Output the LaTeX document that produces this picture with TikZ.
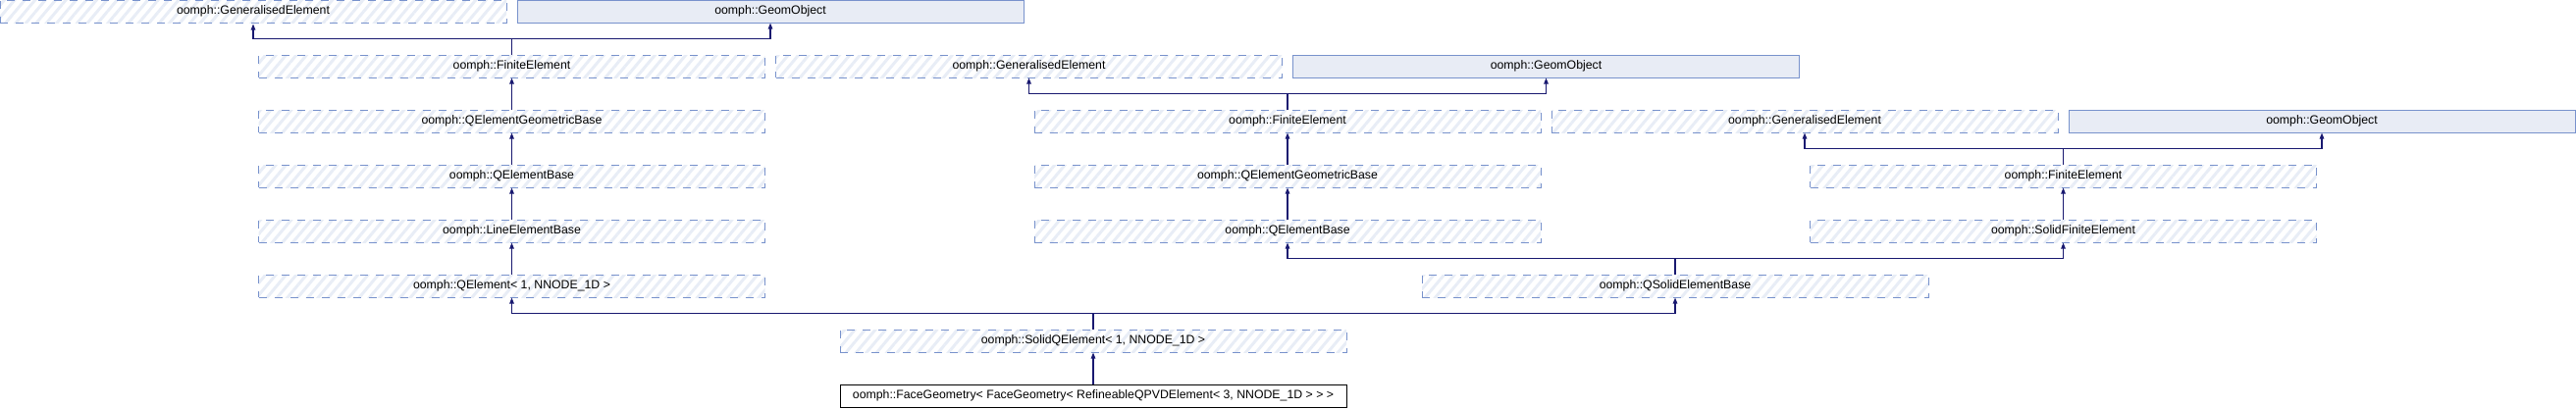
\documentclass[tikz,border=0pt]{standalone}
\usepackage{fontspec}
\setmainfont{Liberation Sans}
\usepackage{tikz}
\usetikzlibrary{arrows.meta, patterns.meta}
\definecolor{dashblue}{RGB}{120,146,204}
\definecolor{hatchblue}{RGB}{232,237,246}
\definecolor{geomfill}{RGB}{232,236,245}
\definecolor{linkblue}{RGB}{25,25,112}
\newcommand{\diagfont}{\fontsize{12.3pt}{14pt}\selectfont}
\tikzstyle{hatched} = [rectangle, minimum width=516pt, minimum height=23pt, inner sep=0pt, text centered, draw=dashblue, line width=1pt, dash pattern=on 8pt off 8pt, pattern={Lines[angle=50,distance=8pt,line width=3pt]}, pattern color=hatchblue, font=\diagfont]
\tikzstyle{geombox} = [rectangle, minimum width=516pt, minimum height=23pt, inner sep=0pt, text centered, draw=dashblue, line width=1pt, fill=geomfill, font=\diagfont]
\tikzstyle{mainbox} = [rectangle, minimum width=516pt, minimum height=23pt, inner sep=0pt, text centered, draw=black, line width=1pt, fill=white, font=\diagfont]
\tikzstyle{inherit} = [draw=linkblue, line width=1.1pt, -{Triangle[length=6pt,width=4.5pt]}]

\begin{document}
\begin{tikzpicture}[node distance=56pt]
  \useasboundingbox (0pt,0pt) rectangle (2625pt,-416pt);
  \node (genel1) [hatched] at (258pt,-11.5pt) {oomph::GeneralisedElement};
  \node (geom1) [geombox, right of=genel1, xshift=471pt] {oomph::GeomObject};
  \node (fe1) [hatched, below of=genel1, xshift=263.5pt] {oomph::FiniteElement};
  \node (qegb1) [hatched, below of=fe1] {oomph::QElementGeometricBase};
  \node (qeb1) [hatched, below of=qegb1] {oomph::QElementBase};
  \node (leb) [hatched, below of=qeb1] {oomph::LineElementBase};
  \node (qel) [hatched, below of=leb] {oomph::QElement< 1, NNODE\_1D >};
  \node (genel2) [hatched, below of=geom1, xshift=263.5pt] {oomph::GeneralisedElement};
  \node (geom2) [geombox, right of=genel2, xshift=471pt] {oomph::GeomObject};
  \node (fe2) [hatched, below of=genel2, xshift=263.5pt] {oomph::FiniteElement};
  \node (qegb2) [hatched, below of=fe2] {oomph::QElementGeometricBase};
  \node (qeb2) [hatched, below of=qegb2] {oomph::QElementBase};
  \node (genel3) [hatched, right of=fe2, xshift=471pt] {oomph::GeneralisedElement};
  \node (geom3) [geombox, right of=genel3, xshift=471pt] {oomph::GeomObject};
  \node (fe3) [hatched, below of=genel3, xshift=263.5pt] {oomph::FiniteElement};
  \node (sfe) [hatched, below of=fe3] {oomph::SolidFiniteElement};
  \node (qseb) [hatched, below of=qeb2, xshift=395pt] {oomph::QSolidElementBase};
  \node (sqel) [hatched, below of=qel, xshift=592.5pt] {oomph::SolidQElement< 1, NNODE\_1D >};
  \node (face) [mainbox, below of=sqel] {oomph::FaceGeometry< FaceGeometry< RefineableQPVDElement< 3, NNODE\_1D > > >};

  \draw [inherit] (fe1.north) -- ++(0,16pt) -| (genel1.south);
  \draw [inherit] (fe1.north) -- ++(0,16pt) -| (geom1.south);
  \draw [inherit] (qegb1) -- (fe1);
  \draw [inherit] (qeb1) -- (qegb1);
  \draw [inherit] (leb) -- (qeb1);
  \draw [inherit] (qel) -- (leb);
  \draw [inherit] (fe2.north) -- ++(0,16pt) -| (genel2.south);
  \draw [inherit] (fe2.north) -- ++(0,16pt) -| (geom2.south);
  \draw [inherit] (qegb2) -- (fe2);
  \draw [inherit] (qeb2) -- (qegb2);
  \draw [inherit] (fe3.north) -- ++(0,16pt) -| (genel3.south);
  \draw [inherit] (fe3.north) -- ++(0,16pt) -| (geom3.south);
  \draw [inherit] (sfe) -- (fe3);
  \draw [inherit] (qseb.north) -- ++(0,16pt) -| (qeb2.south);
  \draw [inherit] (qseb.north) -- ++(0,16pt) -| (sfe.south);
  \draw [inherit] (sqel.north) -- ++(0,16pt) -| (qel.south);
  \draw [inherit] (sqel.north) -- ++(0,16pt) -| (qseb.south);
  \draw [inherit] (face) -- (sqel);
\end{tikzpicture}
\end{document}
